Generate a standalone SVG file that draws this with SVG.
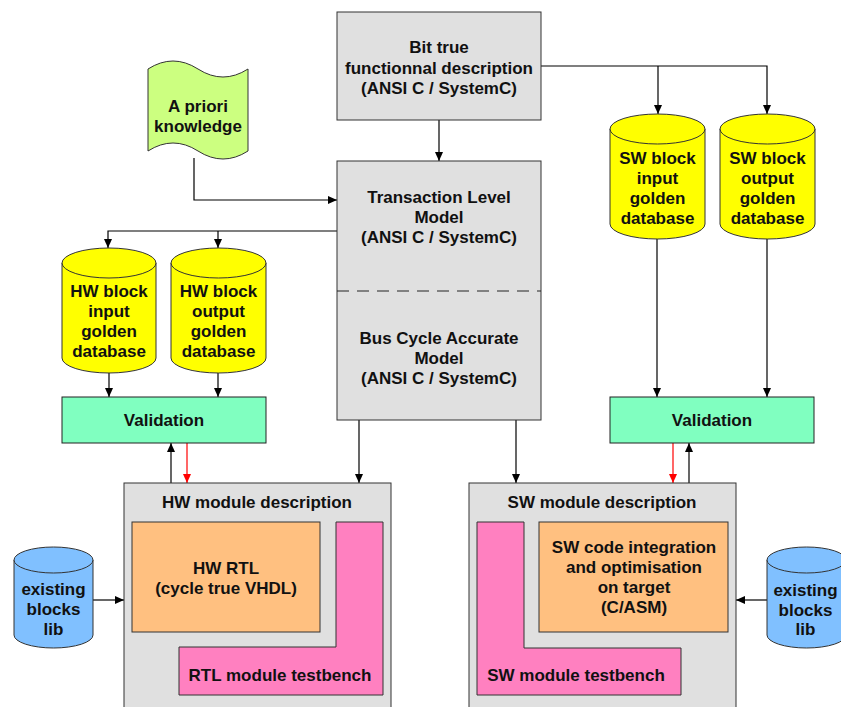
<svg xmlns="http://www.w3.org/2000/svg" width="841" height="707" viewBox="0 0 841 707">
<defs>
<marker id="arr" markerWidth="10" markerHeight="10" refX="9" refY="5" orient="auto" markerUnits="userSpaceOnUse">
<path d="M0,1 L9,5 L0,9 Z" fill="#000"/>
</marker>
<marker id="arrRed" markerWidth="10" markerHeight="10" refX="9" refY="5" orient="auto" markerUnits="userSpaceOnUse">
<path d="M0,1 L9,5 L0,9 Z" fill="#ff0000"/>
</marker>
<style>
.box{fill:#e0e0e0;stroke:#333;stroke-width:1}
.cyl{fill:#ffff00;stroke:#333;stroke-width:1}
.blue{fill:#80c0ff;stroke:#333;stroke-width:1}
.val{fill:#80ffc0;stroke:#222;stroke-width:1}
.ora{fill:#ffc080;stroke:#333;stroke-width:1}
.pink{fill:#ff80c0;stroke:#333;stroke-width:1}
.doc{fill:#ccff80;stroke:#333;stroke-width:1}
text{font-family:"Liberation Sans",Arial,sans-serif;font-weight:bold;font-size:17px;fill:#111;text-anchor:middle}
.c{fill:none;stroke:#000;stroke-width:1.2}
.r{fill:none;stroke:#ff0000;stroke-width:1.2}
</style>
</defs>
<rect width="841" height="707" fill="#fff"/>

<g id="connectors">
<path class="c" d="M439,120 L439,161" marker-end="url(#arr)"/>
<path class="c" d="M194,158 L194,200 L337,200" marker-end="url(#arr)"/>
<path class="c" d="M337,231 L108,231 L108,248" marker-end="url(#arr)"/>
<path class="c" d="M218,231 L218,248" marker-end="url(#arr)"/>
<path class="c" d="M541,66 L767,66 L767,114" marker-end="url(#arr)"/>
<path class="c" d="M658,66 L658,114" marker-end="url(#arr)"/>
<path class="c" d="M109,373 L109,397" marker-end="url(#arr)"/>
<path class="c" d="M218,373 L218,397" marker-end="url(#arr)"/>
<path class="c" d="M657,239 L657,397" marker-end="url(#arr)"/>
<path class="c" d="M767,239 L767,397" marker-end="url(#arr)"/>
<path class="c" d="M171,483 L171,443" marker-end="url(#arr)"/>
<path class="r" d="M187,443 L187,483" marker-end="url(#arrRed)"/>
<path class="r" d="M673,443 L673,483" marker-end="url(#arrRed)"/>
<path class="c" d="M689,483 L689,443" marker-end="url(#arr)"/>
<path class="c" d="M359,420 L359,483" marker-end="url(#arr)"/>
<path class="c" d="M516,420 L516,483" marker-end="url(#arr)"/>
<path class="c" d="M93,600 L124,600" marker-end="url(#arr)"/>
<path class="c" d="M767,600 L736,600" marker-end="url(#arr)"/>
</g>

<g id="bit-true">
<rect class="box" x="337" y="12" width="204" height="108"/>
<text x="439" y="53">Bit true</text>
<text x="439" y="74">functionnal description</text>
<text x="439" y="94">(ANSI C / SystemC)</text>
</g>

<g id="a-priori">
<path class="doc" d="M148,69 Q173,53 198,69 T248,69 L248,151 Q223,167 198,151 T148,151 Z"/>
<text x="198" y="112">A priori</text>
<text x="198" y="132">knowledge</text>
</g>

<g id="tlm">
<rect class="box" x="337" y="161" width="204" height="259"/>
<line x1="337" y1="291" x2="541" y2="291" stroke="#222" stroke-width="1" stroke-dasharray="12,8"/>
<text x="439" y="203">Transaction Level</text>
<text x="439" y="223">Model</text>
<text x="439" y="243">(ANSI C / SystemC)</text>
<text x="439" y="344">Bus Cycle Accurate</text>
<text x="439" y="364">Model</text>
<text x="439" y="384">(ANSI C / SystemC)</text>
</g>

<g id="hw-input-db">
<path class="cyl" d="M62,263 L62,358 A47,15 0 0 0 156,358 L156,263 Z"/>
<ellipse class="cyl" cx="109" cy="263" rx="47" ry="15"/>
<text x="109" y="297">HW block</text>
<text x="109" y="317">input</text>
<text x="109" y="337">golden</text>
<text x="109" y="357">database</text>
</g>

<g id="hw-output-db">
<path class="cyl" d="M171,263 L171,358 A47.5,15 0 0 0 266,358 L266,263 Z"/>
<ellipse class="cyl" cx="218.5" cy="263" rx="47.5" ry="15"/>
<text x="218.5" y="297">HW block</text>
<text x="218.5" y="317">output</text>
<text x="218.5" y="337">golden</text>
<text x="218.5" y="357">database</text>
</g>

<g id="sw-input-db">
<path class="cyl" d="M610,129 L610,224 A47.5,15 0 0 0 705,224 L705,129 Z"/>
<ellipse class="cyl" cx="657.5" cy="129" rx="47.5" ry="15"/>
<text x="657.5" y="164">SW block</text>
<text x="657.5" y="184">input</text>
<text x="657.5" y="204">golden</text>
<text x="657.5" y="224">database</text>
</g>

<g id="sw-output-db">
<path class="cyl" d="M720,129 L720,224 A47.5,15 0 0 0 815,224 L815,129 Z"/>
<ellipse class="cyl" cx="767.5" cy="129" rx="47.5" ry="15"/>
<text x="767.5" y="164">SW block</text>
<text x="767.5" y="184">output</text>
<text x="767.5" y="204">golden</text>
<text x="767.5" y="224">database</text>
</g>

<g id="hw-validation">
<rect class="val" x="62" y="397" width="204" height="46"/>
<text x="164" y="426">Validation</text>
</g>

<g id="sw-validation">
<rect class="val" x="610" y="397" width="204" height="46"/>
<text x="712" y="426">Validation</text>
</g>

<g id="hw-module">
<rect class="box" x="124" y="483" width="267" height="240"/>
<text x="257" y="508">HW module description</text>
</g>

<g id="hw-rtl">
<rect class="ora" x="132" y="522" width="188" height="110"/>
<text x="226" y="574">HW RTL</text>
<text x="226" y="594">(cycle true VHDL)</text>
</g>

<g id="rtl-testbench">
<path class="pink" d="M336,522 L383,522 L383,695 L179,695 L179,647 L336,647 Z"/>
<text x="280" y="681">RTL module testbench</text>
</g>

<g id="sw-module">
<rect class="box" x="469" y="483" width="267" height="240"/>
<text x="602" y="508">SW module description</text>
</g>

<g id="sw-code">
<rect class="ora" x="539" y="522" width="189" height="110"/>
<text x="634" y="553">SW code integration</text>
<text x="634" y="573">and optimisation</text>
<text x="634" y="593">on target</text>
<text x="634" y="613">(C/ASM)</text>
</g>

<g id="sw-testbench">
<path class="pink" d="M477,522 L524,522 L524,648 L681,648 L681,695 L477,695 Z"/>
<text x="576" y="681">SW module testbench</text>
</g>

<g id="existing-lib-left">
<path class="blue" d="M14,560 L14,635 A39.5,13 0 0 0 93,635 L93,560 Z"/>
<ellipse class="blue" cx="53.5" cy="560" rx="39.5" ry="13"/>
<text x="53.5" y="595">existing</text>
<text x="53.5" y="615">blocks</text>
<text x="53.5" y="635">lib</text>
</g>

<g id="existing-lib-right">
<path class="blue" d="M767,560 L767,635 A39.5,13 0 0 0 846,635 L846,560 Z"/>
<ellipse class="blue" cx="806.5" cy="560" rx="39.5" ry="13"/>
<text x="805.5" y="596">existing</text>
<text x="805.5" y="616">blocks</text>
<text x="805.5" y="635">lib</text>
</g>
</svg>
